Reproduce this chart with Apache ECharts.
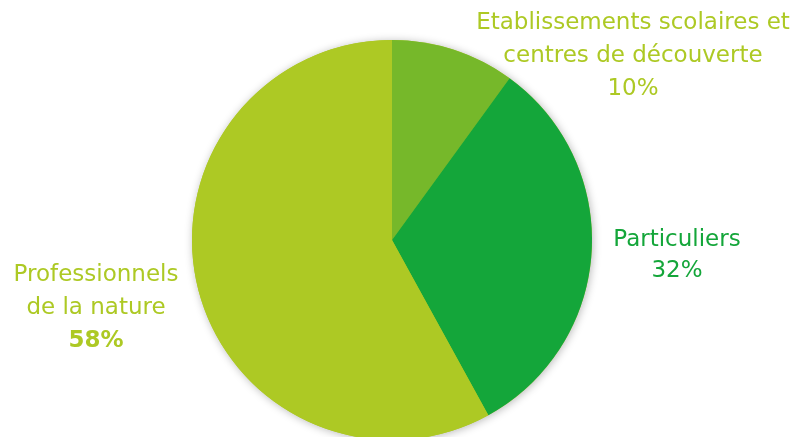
<!DOCTYPE html>
<html><head><meta charset="utf-8">
<script src="https://cdn.jsdelivr.net/npm/echarts@6/dist/echarts.min.js"></script>
<style>html,body{margin:0;padding:0;background:#fff}#c{width:793px;height:437px}</style>
</head><body><div id="c"></div>
<script>
const categories = ['Etablissements scolaires et\ncentres de découverte', 'Particuliers', 'Professionnels\nde la nature'];
const values = [10, 32, 58];
const colors = ['#76b82a', '#14a63a', '#adc924'];
const labelColors = ['#adc924', '#14a63a', '#adc924'];
const labelPos = [[633, 56], [677, 256], [96, 308]];
const lineHeights = [33, 31, 33];
const FONT = "'DejaVu Sans'";
const chart = echarts.init(document.getElementById('c'));
chart.setOption({
  animation: false,
  series: [{
    type: 'pie', silent: true, z: 1,
    center: [392, 240], radius: 200,
    label: {show: false}, labelLine: {show: false},
    data: [{value: 1, name: '', itemStyle: {color: '#adc924', shadowBlur: 9, shadowOffsetX: 1, shadowOffsetY: 1, shadowColor: 'rgba(0,0,0,0.28)'}}]
  }, {
    type: 'pie', z: 2,
    center: [392, 240],
    radius: 200,
    startAngle: 90,
    clockwise: true,
    data: categories.map((n, i) => ({
      name: n, value: values[i],
      itemStyle: {color: colors[i]},
      label: {color: labelColors[i], lineHeight: lineHeights[i], rich: {p: {color: labelColors[i], fontSize: 23, fontFamily: FONT, fontWeight: i === 2 ? 'bold' : 'normal', lineHeight: lineHeights[i]}}}
    })),
    label: {
      show: true, position: 'outside', fontFamily: FONT, fontSize: 23, align: 'center', overflow: 'none',
      formatter: p => p.name + '\n{p|' + p.value + '%}'
    },
    labelLine: {show: false},
    labelLayout: p => ({x: labelPos[p.dataIndex][0], y: labelPos[p.dataIndex][1], align: 'center', verticalAlign: 'middle'})
  }]
});
</script></body></html>
